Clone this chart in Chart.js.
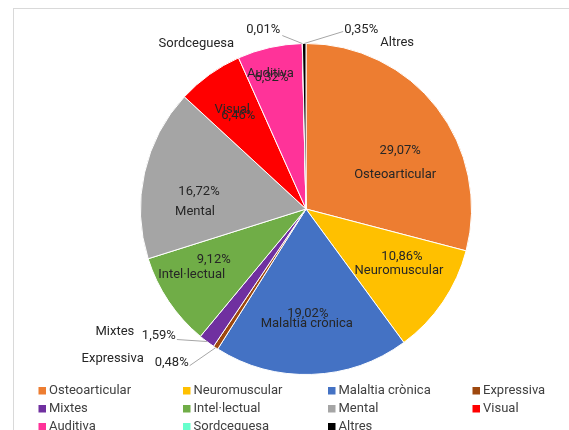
<!DOCTYPE html>
<html>
<head>
<meta charset="utf-8">
<script src="https://cdn.jsdelivr.net/npm/chart.js@4"></script>
<style>
  body { margin: 0; background: #fff; }
  #wrap { position: relative; width: 569px; height: 430px; overflow: hidden; }
  #frame { position: absolute; left: 13px; top: 8px; width: 600px; height: 500px;
           border-top: 1px solid #d9d9d9; border-left: 1px solid #d9d9d9; }
  canvas { position: absolute; left: 0; top: 0; }
</style>
</head>
<body>
<div id="wrap">
  <div id="frame"></div>
  <canvas id="myChart" width="569" height="430"></canvas>
</div>
<script>
// data
const categories = ["Osteoarticular", "Neuromuscular", "Malaltia crònica", "Expressiva", "Mixtes",
  "Intel·lectual", "Mental", "Visual", "Auditiva", "Sordceguesa", "Altres"];
const percents = [29.07, 10.86, 19.02, 0.48, 1.59, 9.12, 16.72, 6.46, 6.32, 0.01, 0.35];
const colors = ["#ED7D31", "#FFC000", "#4472C4", "#9E480E", "#7030A0",
  "#70AD47", "#A5A5A5", "#FF0000", "#FF3399", "#66FFCC", "#000000"];

// label placement: anchor at fraction f of radius on the slice mid angle,
// then offsets for percent text (p) and name text (n). out = leader line end
const labelLayout = [
  { f: 0.65, p: [9, 7], n: [4, 31] },
  { f: 0.65, p: [7, -13], n: [4, 1] },
  { f: 0.65, p: [-2, -3], n: [-3, 7] },
  { f: 1, out: [-26, 18], p: [-44, 15], n: [-103, 11] },
  { f: 1, out: [-30, -2], p: [-48, -6], n: [-92, -10] },
  { f: 0.65, p: [-3, -9], n: [-25, 6] },
  { f: 0.65, p: [-2, 6], n: [-6, 26] },
  { f: 0.65, p: [-5, -6], n: [-11, -12] },
  { f: 0.65, p: [-11, -26], n: [-12, -30] },
  { f: 1, out: [-20, -8], p: [-39, -14], n: [-106, 0] },
  { f: 1, out: [39, -12], p: [57, -14], n: [93, -1] }
];

const fmt = v => v.toFixed(2).replace(".", ",") + "%";

const pieLabels = {
  id: "pieLabels",
  afterDatasetsDraw(chart) {
    const ctx = chart.ctx;
    const arcs = chart.getDatasetMeta(0).data;
    ctx.save();
    ctx.font = "13px Roboto";
    ctx.fillStyle = "#262626";
    ctx.textAlign = "center";
    ctx.textBaseline = "middle";
    arcs.forEach((arc, i) => {
      const { x, y, startAngle, endAngle, outerRadius } = arc.getProps(["x", "y", "startAngle", "endAngle", "outerRadius"], true);
      const mid = (startAngle + endAngle) / 2;
      const L = labelLayout[i];
      const ax = x + Math.cos(mid) * outerRadius * L.f;
      const ay = y + Math.sin(mid) * outerRadius * L.f;
      if (L.out) {
        ctx.strokeStyle = "#a6a6a6";
        ctx.lineWidth = 1;
        ctx.beginPath();
        ctx.moveTo(ax, ay);
        ctx.lineTo(ax + L.out[0], ay + L.out[1]);
        ctx.stroke();
      }
      ctx.fillText(fmt(percents[i]), ax + L.p[0], ay + L.p[1]);
      ctx.fillText(categories[i], ax + L.n[0], ay + L.n[1]);
    });
    ctx.restore();
  }
};

const legendCols = [38.5, 183, 328, 472.5];
const legendRows = [391, 409, 427];

const gridLegend = {
  id: "gridLegend",
  afterDraw(chart) {
    const ctx = chart.ctx;
    ctx.save();
    ctx.font = "13px Roboto";
    ctx.textBaseline = "middle";
    ctx.textAlign = "left";
    categories.forEach((c, i) => {
      const lx = legendCols[i % 4];
      const ly = legendRows[Math.floor(i / 4)];
      ctx.fillStyle = colors[i];
      ctx.fillRect(lx, ly - 4, 7.5, 7.5);
      ctx.fillStyle = "#404040";
      ctx.fillText(c, lx + 10.5, ly);
    });
    ctx.restore();
  }
};

const ctx = document.getElementById("myChart").getContext("2d");
new Chart(ctx, {
  type: "pie",
  data: {
    labels: categories,
    datasets: [{
      data: percents,
      backgroundColor: colors,
      borderColor: "#ffffff",
      borderWidth: 1
    }]
  },
  options: {
    responsive: false,
    animation: false,
    layout: { padding: { top: 43, bottom: 55, left: 140, right: 97 } },
    plugins: {
      legend: { display: false },
      tooltip: { enabled: false }
    }
  },
  plugins: [pieLabels, gridLegend]
});
</script>
</body>
</html>
